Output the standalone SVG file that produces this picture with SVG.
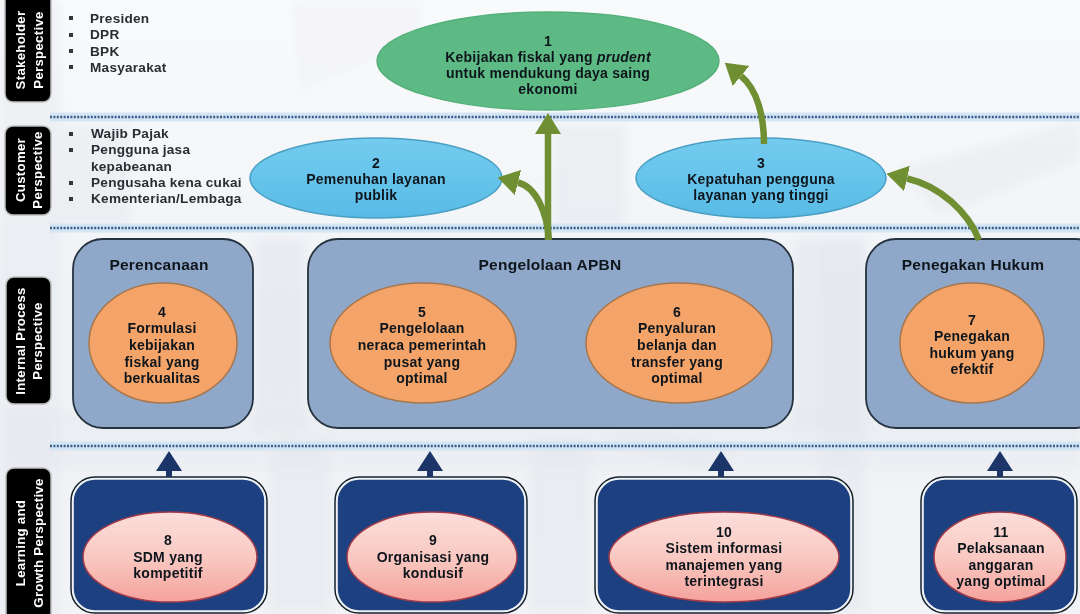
<svg xmlns="http://www.w3.org/2000/svg" width="1080" height="614" viewBox="0 0 1080 614">
<style>
text{font-family:"Liberation Sans",Arial,sans-serif;font-weight:700;font-size:14px;letter-spacing:.25px;fill:#10151c;text-anchor:middle}
.list{font-size:13.6px;text-anchor:start;fill:#2a2d33}
.side{fill:#fff;font-size:13.2px;letter-spacing:.3px}
.title{font-size:15.5px}
.tab{fill:#060606;stroke:#bdbdbd;stroke-width:1.5}
.proc{fill:#8fa8ca;stroke:#26323f;stroke-width:1.8}
.dev{fill:#1d3f80;stroke:#eef2f6;stroke-width:1.6}
.devo{fill:none;stroke:#15202b;stroke-width:1.5}
.o{fill:#f4a468;stroke:#a8764c;stroke-width:1.5}
.p{fill:url(#pink);stroke:#a33a48;stroke-width:1.5}
.b{fill:url(#blue);stroke:#4a9fc2;stroke-width:1.5}
.dot{fill:none;stroke:#3c5c8c;stroke-width:2.4;stroke-dasharray:2 1.4}
.band{fill:none;stroke:#d4e6f3;stroke-width:9}
.sq{fill:#33363b}
.gr{fill:none;stroke:#6f8f32;stroke-width:6.5}
.nv{fill:none;stroke:#1c3567;stroke-width:6}
</style>
<defs>
<linearGradient id="pink" x1="0" y1="0" x2="0" y2="1"><stop offset="0" stop-color="#fbdedb"/><stop offset=".5" stop-color="#f9c9c2"/><stop offset="1" stop-color="#f4a29b"/></linearGradient>
<linearGradient id="blue" x1="0" y1="0" x2="0" y2="1"><stop offset="0" stop-color="#74ccef"/><stop offset="1" stop-color="#58bbe6"/></linearGradient>
<linearGradient id="bg" x1="0" y1="0" x2="0" y2="1"><stop offset="0" stop-color="#f9fafc"/><stop offset=".5" stop-color="#f0f3f6"/><stop offset="1" stop-color="#f1f3f6"/></linearGradient>
<filter id="soft" x="-5%" y="-5%" width="110%" height="110%"><feGaussianBlur stdDeviation="5"/></filter>
<filter id="jpeg" x="0" y="0" width="100%" height="100%"><feGaussianBlur stdDeviation="0.45"/></filter>
<marker id="gh" markerUnits="userSpaceOnUse" markerWidth="22" markerHeight="28" refX="0" refY="13" orient="auto"><path d="M0,0L21,13L0,26Z" fill="#6f8f32"/></marker>
<marker id="nh" markerUnits="userSpaceOnUse" markerWidth="22" markerHeight="28" refX="0" refY="13" orient="auto"><path d="M0,0L20,13L0,26Z" fill="#1c3567"/></marker>
</defs>
<g id="diagram" filter="url(#jpeg)">
<g id="background">
<rect width="1080" height="614" fill="url(#bg)"/>
<g filter="url(#soft)" fill="#dfe3e9" opacity=".7">
<rect x="0" y="0" width="60" height="614" opacity=".5"/>
<path d="M290,0H420V40L300,90Z" opacity=".2"/>
<rect x="60" y="125" width="70" height="100" opacity=".5"/>
<rect x="555" y="125" width="70" height="100" opacity=".6"/>
<path d="M0,410H1080V470H0Z" opacity=".45"/>
<rect x="820" y="240" width="45" height="370" opacity=".6"/>
<path d="M900,170L1080,120V160L940,215Z" opacity=".5"/>
<rect x="270" y="440" width="60" height="170" opacity=".6"/>
<rect x="530" y="440" width="60" height="170" opacity=".6"/>
<path d="M600,440L700,470L740,450L640,430Z" opacity=".6"/>
<rect x="255" y="240" width="50" height="190" opacity=".7"/>
<rect x="795" y="240" width="70" height="190" opacity=".7"/>
</g>
</g>
<g id="separators">
<path class="band" d="M50,117H1080M50,228H1080M50,446H1080"/>
<path class="dot" d="M50,117H1080M50,228H1080M50,446H1080"/>
</g>
<g id="tab-stakeholder"><rect class="tab" x="5" y="-8" width="46" height="110" rx="8"/><g transform="translate(20,50) rotate(-90)"><text class="side" y="5">Stakeholder</text></g><g transform="translate(38,50) rotate(-90)"><text class="side" y="5">Perspective</text></g></g>
<g id="tab-customer"><rect class="tab" x="5" y="126" width="46" height="89" rx="8"/><g transform="translate(20,170) rotate(-90)"><text class="side" y="5">Customer</text></g><g transform="translate(37,170) rotate(-90)"><text class="side" y="5">Perspective</text></g></g>
<g id="tab-internal"><rect class="tab" x="6" y="277" width="45" height="127" rx="8"/><g transform="translate(20,341) rotate(-90)"><text class="side" y="5">Internal Process</text></g><g transform="translate(37,341) rotate(-90)"><text class="side" y="5">Perspective</text></g></g>
<g id="tab-learning"><rect class="tab" x="6" y="468" width="45" height="156" rx="8"/><g transform="translate(20,543) rotate(-90)"><text class="side" y="5">Learning and</text></g><g transform="translate(38,543) rotate(-90)"><text class="side" y="5">Growth Perspective</text></g></g>
<g id="list-stakeholder">
<rect class="sq" x="69" y="16" width="4" height="4"/><rect class="sq" x="69" y="33" width="4" height="4"/><rect class="sq" x="69" y="49" width="4" height="4"/><rect class="sq" x="69" y="65" width="4" height="4"/>
<text class="list" x="90" y="23">Presiden</text><text class="list" x="90" y="39">DPR</text><text class="list" x="90" y="56">BPK</text><text class="list" x="90" y="72">Masyarakat</text>
</g>
<g id="list-customer">
<rect class="sq" x="69" y="132" width="4" height="4"/><rect class="sq" x="69" y="148" width="4" height="4"/><rect class="sq" x="69" y="181" width="4" height="4"/><rect class="sq" x="69" y="197" width="4" height="4"/>
<text class="list" x="91" y="138">Wajib Pajak</text><text class="list" x="91" y="154">Pengguna jasa</text><text class="list" x="91" y="171">kepabeanan</text><text class="list" x="91" y="187">Pengusaha kena cukai</text><text class="list" x="91" y="203">Kementerian/Lembaga</text>
</g>
<g id="node-perencanaan"><rect class="proc" x="73" y="239" width="180" height="189" rx="30"/><text class="title" x="159" y="270">Perencanaan</text></g>
<g id="node-apbn"><rect class="proc" x="308" y="239" width="485" height="189" rx="30"/><text class="title" x="550" y="270">Pengelolaan APBN</text></g>
<g id="node-hukum"><rect class="proc" x="866" y="239" width="240" height="189" rx="30"/><text class="title" x="973" y="270">Penegakan Hukum</text></g>
<g id="node-1"><ellipse cx="548" cy="61" rx="171" ry="49" fill="#5dba84" stroke="#55b079" stroke-width="1.5"/>
<text x="548" y="46">1</text><text x="548" y="62">Kebijakan fiskal yang <tspan font-style="italic">prudent</tspan></text><text x="548" y="78">untuk mendukung daya saing</text><text x="548" y="94">ekonomi</text></g>
<g id="node-2"><ellipse class="b" cx="376" cy="178" rx="126" ry="40"/><text x="376" y="168">2</text><text x="376" y="184">Pemenuhan layanan</text><text x="376" y="200">publik</text></g>
<g id="node-3"><ellipse class="b" cx="761" cy="178" rx="125" ry="40"/><text x="761" y="168">3</text><text x="761" y="184">Kepatuhan pengguna</text><text x="761" y="200">layanan yang tinggi</text></g>
<g id="node-4"><ellipse class="o" cx="163" cy="343" rx="74" ry="60"/><text x="162" y="317">4</text><text x="162" y="333">Formulasi</text><text x="162" y="350">kebijakan</text><text x="162" y="367">fiskal yang</text><text x="162" y="383">berkualitas</text></g>
<g id="node-5"><ellipse class="o" cx="423" cy="343" rx="93" ry="60"/><text x="422" y="317">5</text><text x="422" y="333">Pengelolaan</text><text x="422" y="350">neraca pemerintah</text><text x="422" y="367">pusat yang</text><text x="422" y="383">optimal</text></g>
<g id="node-6"><ellipse class="o" cx="679" cy="343" rx="93" ry="60"/><text x="677" y="317">6</text><text x="677" y="333">Penyaluran</text><text x="677" y="350">belanja dan</text><text x="677" y="367">transfer yang</text><text x="677" y="383">optimal</text></g>
<g id="node-7"><ellipse class="o" cx="972" cy="343" rx="72" ry="60"/><text x="972" y="325">7</text><text x="972" y="341">Penegakan</text><text x="972" y="358">hukum yang</text><text x="972" y="374">efektif</text></g>
<g id="node-8"><rect class="devo" x="71" y="477" width="196" height="136" rx="24"/><rect class="dev" x="73" y="479" width="192" height="132" rx="22"/><ellipse class="p" cx="170" cy="557" rx="87" ry="45"/><text x="168" y="545">8</text><text x="168" y="562">SDM yang</text><text x="168" y="578">kompetitif</text></g>
<g id="node-9"><rect class="devo" x="335" y="477" width="192" height="136" rx="24"/><rect class="dev" x="337" y="479" width="188" height="132" rx="22"/><ellipse class="p" cx="432" cy="557" rx="85" ry="45"/><text x="433" y="545">9</text><text x="433" y="562">Organisasi yang</text><text x="433" y="578">kondusif</text></g>
<g id="node-10"><rect class="devo" x="595" y="477" width="258" height="136" rx="24"/><rect class="dev" x="597" y="479" width="254" height="132" rx="22"/><ellipse class="p" cx="724" cy="557" rx="115" ry="45"/><text x="724" y="537">10</text><text x="724" y="553">Sistem informasi</text><text x="724" y="570">manajemen yang</text><text x="724" y="586">terintegrasi</text></g>
<g id="node-11"><rect class="devo" x="921" y="477" width="156" height="136" rx="24"/><rect class="dev" x="923" y="479" width="152" height="132" rx="22"/><ellipse class="p" cx="1000" cy="557" rx="66" ry="45"/><text x="1001" y="537">11</text><text x="1001" y="553">Pelaksanaan</text><text x="1001" y="570">anggaran</text><text x="1001" y="586">yang optimal</text></g>
<g id="connectors">
<path class="gr" marker-end="url(#gh)" d="M548,240V134"/>
<path class="gr" marker-end="url(#gh)" d="M549,240C547,212 536,187 518,182.5"/>
<path class="gr" marker-end="url(#gh)" d="M764,144C764,118 758,90 741,76"/>
<path class="gr" marker-end="url(#gh)" d="M979,240C968,212 940,186 907,178.5"/>
<path class="nv" marker-end="url(#nh)" d="M169,477V471"/>
<path class="nv" marker-end="url(#nh)" d="M430,477V471"/>
<path class="nv" marker-end="url(#nh)" d="M721,477V471"/>
<path class="nv" marker-end="url(#nh)" d="M1000,477V471"/>
</g>
</g>
</svg>
